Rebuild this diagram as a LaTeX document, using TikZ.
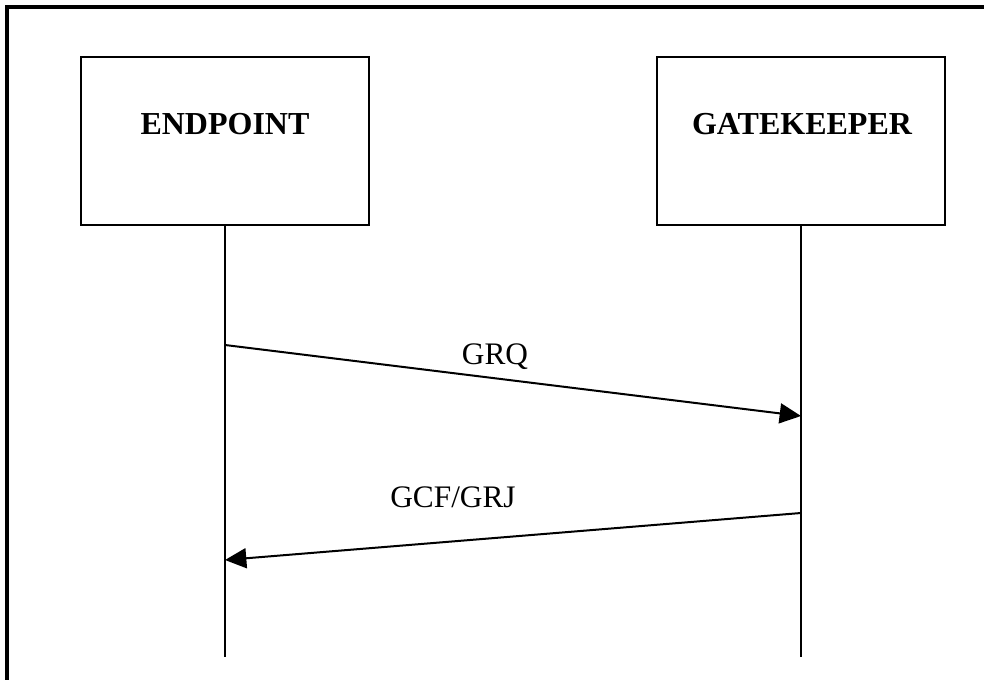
\documentclass[tikz,border=0pt]{standalone}
\usepackage{fontspec}
\setmainfont{Liberation Serif}
\usetikzlibrary{arrows.meta}
\begin{document}
\begin{tikzpicture}[x=0.75pt,y=-0.75pt,
  entity/.style={draw,line width=1.5pt,minimum width=216pt,minimum height=126pt,inner sep=0pt},
  entitylabel/.style={font=\fontsize{24}{28}\selectfont\bfseries,anchor=base,inner sep=0pt},
  lifeline/.style={line width=1.5pt},
  msg/.style={line width=1.5pt,-{Triangle[length=16pt,width=15pt]}},
  msglabel/.style={font=\fontsize{23.5}{27}\selectfont,anchor=base,inner sep=0pt}]
  \clip (0,0) rectangle (984,680);
  \fill[white] (0,0) rectangle (984,680);
  % outer frame, only its top and left edges fall inside the page
  \draw[line width=3pt] (7,7) rectangle (1000,700);
  % participants
  \node[entity] (ep) at (225,141) {};
  \node[entity] (gk) at (801,141) {};
  \node[entitylabel] (eplabel) at (225,135) {ENDPOINT};
  \node[entitylabel] (gklabel) at (802,135) {GATEKEEPER};
  % lifelines
  \coordinate (epend) at (225,657);
  \coordinate (gkend) at (801,657);
  \draw[lifeline] (ep.south) -- (epend);
  \draw[lifeline] (gk.south) -- (gkend);
  % message anchor points on the lifelines
  \coordinate (grqfrom) at (225,345);
  \coordinate (grqto) at (801,416);
  \coordinate (gcffrom) at (801,513);
  \coordinate (gcfto) at (225,560);
  \draw[msg] (grqfrom) -- (grqto);
  \draw[msg] (gcffrom) -- (gcfto);
  \node[msglabel] (grq) at (495,365) {GRQ};
  \node[msglabel] (gcf) at (453,507) {GCF/GRJ};
\end{tikzpicture}
\end{document}
